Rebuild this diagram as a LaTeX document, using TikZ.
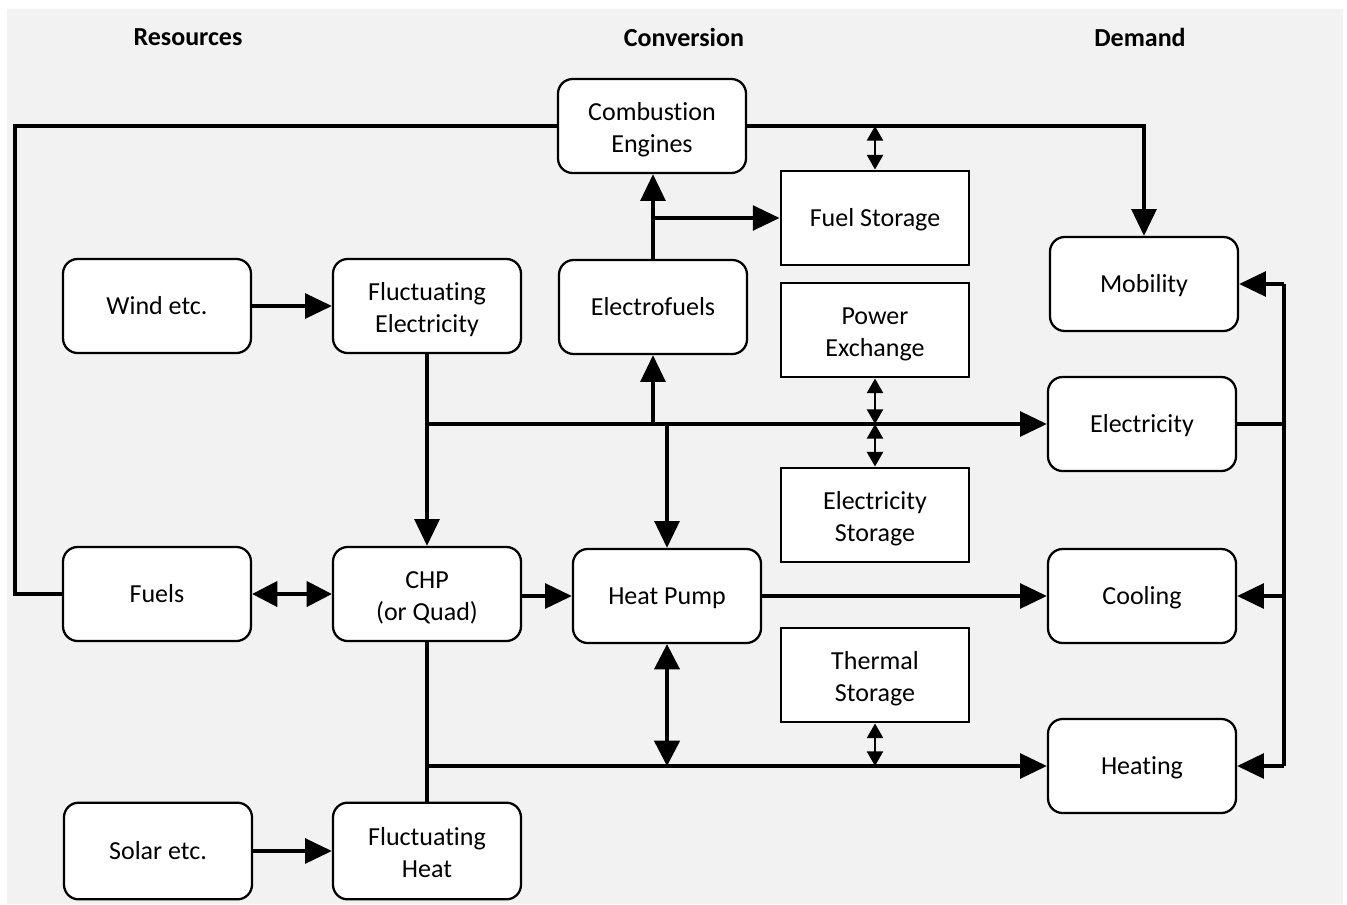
\documentclass[tikz,border=0pt]{standalone}
\usepackage{fontspec}
\setmainfont{Carlito}[Ligatures=CommonOff]
\usetikzlibrary{arrows.meta}
\definecolor{bg}{HTML}{F2F2F2}
\newcommand{\vstrt}{\rule[-5.2pt]{0pt}{23.7pt}}
\newcommand{\fstrt}{\rule[-5.2pt]{0pt}{26.7pt}}
\tikzset{
  boxtext/.style={inner sep=0pt, align=center, font=\fontsize{19.5}{24}\selectfont, execute at begin node=\vstrt, execute at end node=\vstrt},
  box/.style={boxtext, draw, line width=1.7pt, fill=white, rounded corners=11pt, minimum width=141pt, minimum height=70.5pt},
  store/.style={boxtext, draw, line width=1.7pt, fill=white, minimum width=141.5pt, minimum height=71pt},
  hdr/.style={font=\fontsize{19.5}{24}\selectfont\bfseries},
  conn/.style={line width=2.6pt, line join=miter},
  arr/.style={conn, -{Triangle[length=20pt,width=18.5pt]}},
  darr/.style={conn, {Triangle[length=19pt,width=19pt]}-{Triangle[length=19pt,width=19pt]}},
  sarr/.style={line width=1.8pt, {Triangle[length=11pt,width=12pt]}-{Triangle[length=11pt,width=12pt]}},
}
\begin{document}
\begin{tikzpicture}[x=0.75pt, y=-0.75pt]
\useasboundingbox (0,0) rectangle (1347,904);
\fill[bg] (7,9) rectangle (1343,904);

\node[hdr] (hres) at (188,37) {Resources};
\node[hdr] (hcon) at (684,37) {Conversion};
\node[hdr] (hdem) at (1140,37) {Demand};

\node[box] (ce) at (652,126) {\fstrt Combustion\\Engines\vstrt};
\node[box] (wind) at (157,306) {Wind etc.};
\node[box] (fe) at (427,306) {\fstrt Fluctuating\\Electricity\vstrt};
\node[box] (ef) at (653,307) {Electrofuels};
\node[box] (mob) at (1144,284) {Mobility};
\node[box] (elec) at (1142,424) {Electricity};
\node[box] (fuels) at (157,594) {Fuels};
\node[box] (chp) at (427,594) {\fstrt CHP\\(or Quad)\vstrt};
\node[box] (hp) at (667,596) {Heat Pump};
\node[box] (cool) at (1142,596) {Cooling};
\node[box] (heat) at (1142,766) {Heating};
\node[box, minimum height=72.5pt] (solar) at (158,851) {Solar etc.};
\node[box, minimum height=72.5pt] (fh) at (427,851) {\fstrt Fluctuating\\Heat\vstrt};

\node[store] (fs) at (875,218) {Fuel Storage};
\node[store] (pe) at (875,330) {\fstrt Power\\Exchange\vstrt};
\node[store] (es) at (875,515) {\fstrt Electricity\\Storage\vstrt};
\node[store] (ts) at (875,675) {\fstrt Thermal\\Storage\vstrt};

\coordinate (lft) at (15,0);
\coordinate (rb) at (1284,0);

% fuels loop to combustion engines
\draw[conn] (fuels.west) -- (fuels.west -| lft) |- (ce.west);
\draw[arr] (ce.east) -| (mob.north);
\draw[sarr] (fs.north |- ce.east) -- (fs.north);

% electrofuels
\draw[arr] (ef.north) -- (ef.north |- ce.south);
\draw[arr] (ef.north |- fs.west) -- (fs.west);

% wind
\draw[arr] (wind.east) -- (fe.west);
\draw[arr] (fe.south) -- (chp.north);
\draw[arr] (fe.south |- elec.west) -- (elec.west);
\draw[arr] (ef.south |- elec.west) -- (ef.south);
\draw[arr] (hp.north |- elec.west) -- (hp.north);
\draw[sarr] (pe.south) -- (pe.south |- elec.west);
\draw[sarr] (es.north |- elec.west) -- (es.north);

% CHP row
\draw[darr] (fuels.east) -- (chp.west);
\draw[arr] (chp.east |- hp.west) -- (hp.west);
\draw[arr] (hp.east) -- (cool.west);

% heat
\draw[conn] (chp.south) -- (fh.north);
\draw[arr] (chp.south |- heat.west) -- (heat.west);
\draw[darr] (hp.south) -- (hp.south |- heat.west);
\draw[sarr] (ts.south) -- (ts.south |- heat.west);
\draw[arr] (solar.east) -- (fh.west);

% right bus
\draw[conn] (elec.east) -- (elec.east -| rb);
\draw[conn] (rb |- mob.east) -- (rb |- heat.east);
\draw[arr] (rb |- mob.east) -- (mob.east);
\draw[arr] (rb |- cool.east) -- (cool.east);
\draw[arr] (rb |- heat.east) -- (heat.east);
\end{tikzpicture}
\end{document}
